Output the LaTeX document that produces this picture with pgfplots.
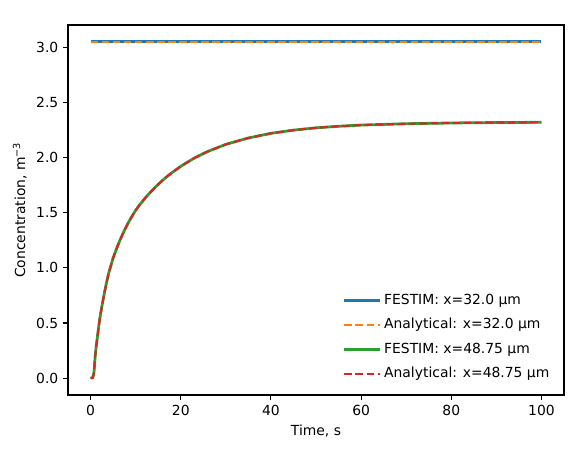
\documentclass[border=0pt]{standalone}
\usepackage{pgfplots}
\pgfplotsset{compat=1.18}
\usepackage{fontspec}
\setmainfont{DejaVu Sans}
\definecolor{c0}{HTML}{1F77B4}
\definecolor{c1}{HTML}{FF7F0E}
\definecolor{c2}{HTML}{2CA02C}
\definecolor{c3}{HTML}{D62728}
\pgfplotstableread{
t v
0 0
0.5 0.005
0.75 0.05
1 0.19
1.25 0.29
1.5 0.37
2 0.53
2.5 0.65
3 0.76
3.5 0.86
4 0.95
4.5 1.02
5 1.09
5.5 1.145
6 1.20
6.5 1.25
7 1.295
7.5 1.34
8 1.38
8.5 1.42
9 1.455
10 1.522
11 1.578
12 1.628
13 1.674
14 1.717
15 1.757
16 1.795
17 1.830
18 1.862
20 1.921
23 1.996
26 2.056
30 2.120
35 2.178
40 2.220
45 2.249
50 2.270
55 2.284
60 2.295
70 2.307
80 2.314
90 2.318
100 2.320
}\curve
\begin{document}
\fontsize{10}{12}\selectfont
\begin{tikzpicture}
\useasboundingbox (-49pt,-38.2pt) rectangle (364.3pt,284.4pt);
\begin{axis}[
  at={(0,0)}, anchor=south west,
  scale only axis, width=357.1pt, height=266.4pt,
  xmin=-5, xmax=105, ymin=-0.1525, ymax=3.2025,
  xtick={0,20,40,60,80,100},
  ytick={0,0.5,1,1.5,2,2.5,3},
  scaled y ticks=false,
  yticklabel style={/pgf/number format/.cd, fixed, fixed zerofill, precision=1},
  /pgf/number format/assume math mode=true,
  tick align=outside, major tick length=3.5pt,
  axis line style={line width=0.8pt},
  every tick/.style={black, line width=0.8pt},
  xtick pos=bottom, ytick pos=left,
  tick label style={font=\fontsize{10}{12}\selectfont},
  label style={font=\fontsize{10}{12}\selectfont},
  xlabel={Time, s},
  ylabel={Concentration, m\textsuperscript{−3}},
  legend cell align=left,
  legend style={draw=none, fill=none, at={(rel axis cs:0.985,0.025)}, anchor=south east,
    font=\fontsize{10}{12}\selectfont, row sep=4.6pt},
  legend image code/.code={\draw[#1] (0pt,0pt) -- (21.6pt,0pt); \path (0pt,0pt) -- (25.6pt,0pt);},
]
\addplot[c0, line width=2pt] coordinates {(0,3.05) (100,3.05)};
\addlegendentry{FESTIM: x=32.0 µm}
\addplot[c1, line width=1.5pt, dash pattern=on 5.55pt off 2.4pt] coordinates {(0,3.05) (100,3.05)};
\addlegendentry{Analytical: x=32.0 µm}
\addplot[c2, line width=2pt, line join=round] table[x=t,y=v] {\curve};
\addlegendentry{FESTIM: x=48.75 µm}
\addplot[c3, line width=1.5pt, dash pattern=on 5.55pt off 2.4pt] table[x=t,y=v] {\curve};
\addlegendentry{Analytical: x=48.75 µm}
\node[anchor=base west, inner sep=0pt, font=\fontsize{10}{12}\selectfont] at ([yshift=3pt]rel axis cs:0,1) {1e25};
\end{axis}
\end{tikzpicture}
\end{document}
